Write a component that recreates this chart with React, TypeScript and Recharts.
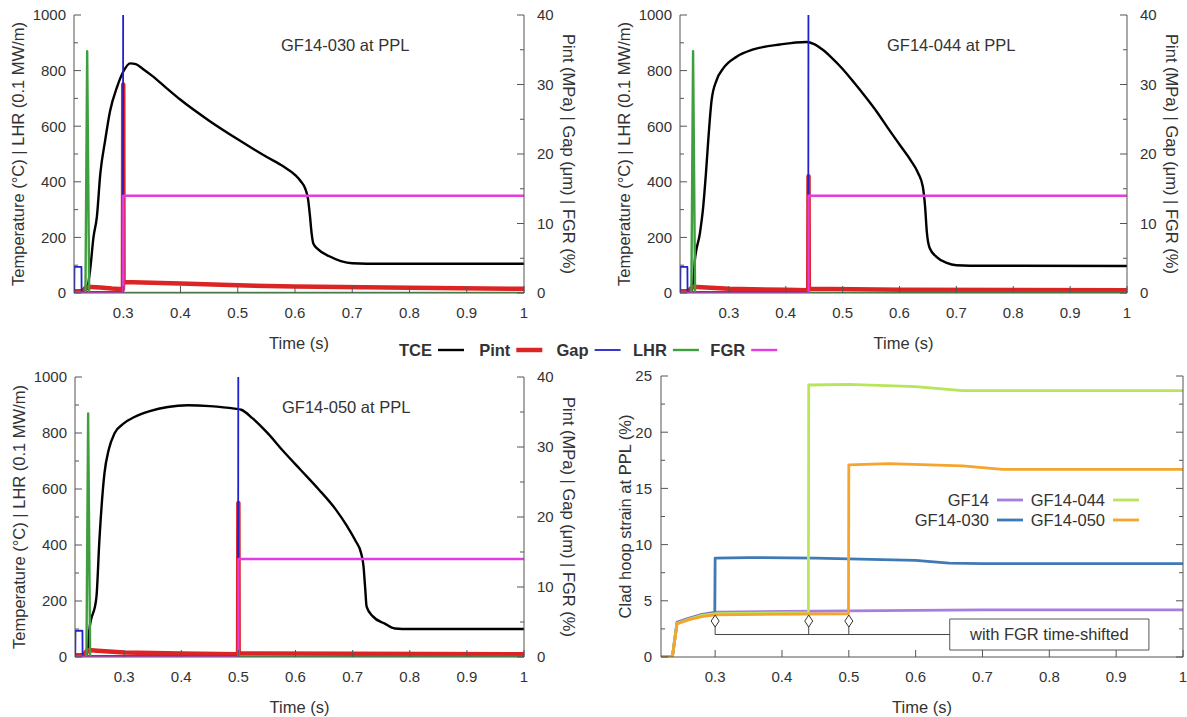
import React from 'react'
import { ComposedChart, Line, XAxis, YAxis, Scatter, ReferenceArea } from 'recharts'

type Pt = [number, number]

// GF14-030 at PPL  (TCE, LHR on left axis; Pint, Gap, FGR on right axis)
const tce030: Pt[] = [
  [0.214, 8], [0.236, 12], [0.242, 80], [0.248, 200], [0.254, 275], [0.26, 430], [0.2685, 550],
  [0.277, 655], [0.289, 740], [0.3, 796], [0.312, 826], [0.322, 823], [0.335, 805], [0.35, 782],
  [0.375, 738], [0.4, 695], [0.45, 620], [0.5, 553], [0.55, 490], [0.58, 455], [0.6, 425],
  [0.61, 402], [0.618, 375], [0.623, 335], [0.626, 280], [0.629, 215], [0.632, 178], [0.64, 158],
  [0.66, 132], [0.68, 115], [0.7, 107], [0.75, 105], [1, 105],
]
const pint030: Pt[] = [
  [0.214, 0.2], [0.228, 0.2], [0.236, 0.9], [0.26, 0.8], [0.28, 0.65], [0.2995, 0.55], [0.3, 30],
  [0.3005, 1.6], [0.4, 1.35], [0.5, 1.1], [0.6, 0.95], [0.8, 0.75], [1, 0.6],
]
const gap030: Pt[] = [[0.2145, 0], [0.2148, 3.75], [0.227, 3.75], [0.2273, 0.15], [0.2995, 0.15], [0.3, 60], [1, 60]]
const lhr030: Pt[] = [[0.214, 0], [0.234, 0], [0.237, 870], [0.2405, 0], [1, 0]]
const fgr030: Pt[] = [[0.214, 0], [0.3, 0], [0.3, 14], [1, 14]]

// GF14-044 at PPL
const tce044: Pt[] = [
  [0.214, 8], [0.236, 12], [0.2402, 119], [0.249, 215], [0.2548, 310], [0.2596, 430], [0.2637, 550],
  [0.2696, 694], [0.2784, 766], [0.29, 808], [0.3135, 850], [0.343, 876], [0.39, 894], [0.4365, 903],
  [0.45, 895], [0.465, 875], [0.48, 848], [0.5, 806], [0.52, 757], [0.54, 706], [0.56, 652],
  [0.58, 592], [0.6, 534], [0.62, 476], [0.633, 430], [0.641, 382], [0.645, 310], [0.648, 220],
  [0.653, 162], [0.665, 130], [0.683, 108], [0.7, 100], [0.75, 98], [1, 97],
]
const pint044: Pt[] = [
  [0.214, 0.2], [0.228, 0.2], [0.236, 0.9], [0.26, 0.8], [0.3, 0.6], [0.4, 0.45], [0.4395, 0.4],
  [0.44, 16.8], [0.4405, 0.6], [0.6, 0.45], [1, 0.4],
]
const gap044: Pt[] = [[0.2145, 0], [0.2148, 3.75], [0.227, 3.75], [0.2273, 0.15], [0.4395, 0.15], [0.44, 60], [1, 60]]
const lhr044: Pt[] = [[0.214, 0], [0.234, 0], [0.237, 870], [0.2405, 0], [1, 0]]
const fgr044: Pt[] = [[0.214, 0], [0.44, 0], [0.44, 14], [1, 14]]

// GF14-050 at PPL
const tce050: Pt[] = [
  [0.214, 8], [0.236, 12], [0.239, 95], [0.2515, 214], [0.2567, 417], [0.2655, 655], [0.273, 740],
  [0.283, 798], [0.3, 835], [0.318, 857], [0.345, 878], [0.3765, 893], [0.4115, 899], [0.45, 896],
  [0.4932, 887], [0.505, 883], [0.525, 852], [0.55, 802], [0.58, 732], [0.61, 666], [0.64, 600],
  [0.67, 528], [0.69, 468], [0.705, 415], [0.715, 370], [0.719, 325], [0.722, 245], [0.7245, 180],
  [0.735, 146], [0.7565, 119], [0.774, 102], [0.8, 100], [1, 100],
]
const pint050: Pt[] = [
  [0.214, 0.2], [0.228, 0.2], [0.236, 1.0], [0.26, 0.85], [0.3, 0.65], [0.4, 0.5], [0.4995, 0.4],
  [0.5, 22], [0.5005, 0.5], [0.7, 0.45], [1, 0.4],
]
const gap050: Pt[] = [[0.2145, 0], [0.2148, 3.75], [0.227, 3.75], [0.2273, 0.15], [0.4995, 0.15], [0.5, 60], [1, 60]]
const lhr050: Pt[] = [[0.214, 0], [0.234, 0], [0.237, 870], [0.2405, 0], [1, 0]]
const fgr050: Pt[] = [[0.214, 0], [0.5, 0], [0.5, 14], [1, 14]]

// clad hoop strain at PPL (%)
const strainGF14: Pt[] = [
  [0.219, 0], [0.236, 0], [0.243, 3.1], [0.26, 3.45], [0.28, 3.8], [0.3, 4.0], [0.4, 4.05], [0.5, 4.1], [0.7, 4.2], [1, 4.2],
]
const strain030: Pt[] = [
  [0.219, 0], [0.236, 0], [0.243, 3.05], [0.26, 3.4], [0.28, 3.75], [0.2995, 3.9], [0.3, 8.8],
  [0.35, 8.85], [0.45, 8.8], [0.6, 8.6], [0.65, 8.35], [0.7, 8.3], [1, 8.3],
]
const strain044: Pt[] = [
  [0.219, 0], [0.236, 0], [0.243, 3.0], [0.26, 3.35], [0.28, 3.7], [0.3, 3.85], [0.4395, 3.95],
  [0.44, 24.2], [0.5, 24.25], [0.6, 24.05], [0.67, 23.7], [1, 23.7],
]
const strain050: Pt[] = [
  [0.219, 0], [0.236, 0], [0.243, 2.95], [0.26, 3.3], [0.28, 3.6], [0.3, 3.75], [0.4995, 3.85],
  [0.5, 17.1], [0.56, 17.2], [0.67, 17.0], [0.73, 16.7], [1, 16.7],
]
const shiftTimes = [0.3, 0.44, 0.5]

const xTicks = [0.3, 0.4, 0.5, 0.6, 0.7, 0.8, 0.9, 1]
const tempTicks = [0, 100, 200, 300, 400, 500, 600, 700, 800, 900, 1000]
const tempMajor = [0, 200, 400, 600, 800, 1000]
const rightTicks = [0, 5, 10, 15, 20, 25, 30, 35, 40]
const rightMajor = [0, 10, 20, 30, 40]
const strainTicks = [0, 2.5, 5, 7.5, 10, 12.5, 15, 17.5, 20, 22.5, 25]
const strainMajor = [0, 5, 10, 15, 20, 25]

const FONT = '"Liberation Sans", Arial, sans-serif'
const INK = '#333'
const FRAME = '#555'
const H = 355

const fuelSeries = [
  { name: 'TCE', color: '#000000', width: 2.4, axis: 'l', curve: 'monotoneX' },
  { name: 'Pint', color: '#dc2424', width: 4.5, axis: 'r', curve: 'linear' },
  { name: 'Gap', color: '#2020cc', width: 1.8, axis: 'r', curve: 'linear' },
  { name: 'LHR', color: '#3f9f3f', width: 2.4, axis: 'l', curve: 'linear' },
  { name: 'FGR', color: '#e23de2', width: 2.4, axis: 'r', curve: 'linear' },
]

const fuelPanels = [
  { title: 'GF14-030 at PPL', left: 0, top: 0, width: 600, plotL: 74, plotR: 524, plotT: 15, plotB: 293, data: [tce030, pint030, gap030, lhr030, fgr030] },
  { title: 'GF14-044 at PPL', left: 590, top: 0, width: 597, plotL: 680, plotR: 1127, plotT: 15, plotB: 293, data: [tce044, pint044, gap044, lhr044, fgr044] },
  { title: 'GF14-050 at PPL', left: 0, top: 362, width: 600, plotL: 75, plotR: 524, plotT: 377, plotB: 657, data: [tce050, pint050, gap050, lhr050, fgr050] },
]

const strainPanel = { left: 590, top: 362, width: 597, plotL: 661, plotR: 1183, plotT: 376, plotB: 657 }
const strainSeries = [
  { name: 'GF14', color: '#a77ee0', data: strainGF14 },
  { name: 'GF14-030', color: '#3f7ab5', data: strain030 },
  { name: 'GF14-044', color: '#b8e65a', data: strain044 },
  { name: 'GF14-050', color: '#f5a52c', data: strain050 },
]

const toPts = (arr: Pt[]) => arr.map(([x, y]) => ({ x, y }))

type Side = 'bottom' | 'top' | 'left' | 'right'

// gnuplot-style inward ticks, drawn by hand; gap = tickMargin given to the axis
const makeTick = (side: Side, majors: number[], gap: number, showLabels: boolean) => (props: any) => {
  const { x, y, payload } = props
  const v: number = payload.value
  const major = majors.some((m) => Math.abs(m - v) < 1e-9)
  const len = major ? 7 : 4
  const txt = { fontSize: 15, fill: INK, fontFamily: FONT }
  let ln: React.ReactNode = null
  let label: React.ReactNode = null
  if (side === 'bottom') {
    const ay = y - gap
    ln = <line x1={x} y1={ay} x2={x} y2={ay - len} stroke={FRAME} />
    if (showLabels && major) label = <text x={x} y={y} dy="0.72em" textAnchor="middle" {...txt}>{String(v)}</text>
  } else if (side === 'top') {
    const ay = y + gap
    ln = <line x1={x} y1={ay} x2={x} y2={ay + len} stroke={FRAME} />
  } else if (side === 'left') {
    const ax = x + gap
    ln = <line x1={ax} y1={y} x2={ax + len} y2={y} stroke={FRAME} />
    if (showLabels && major) label = <text x={x} y={y} dy="0.36em" textAnchor="end" {...txt}>{String(v)}</text>
  } else {
    const ax = x - gap
    ln = <line x1={ax} y1={y} x2={ax - len} y2={y} stroke={FRAME} />
    if (showLabels && major) label = <text x={x} y={y} dy="0.36em" textAnchor="start" {...txt}>{String(v)}</text>
  }
  return (
    <g>
      {ln}
      {label}
    </g>
  )
}

const axisCommon = {
  type: 'number' as const,
  allowDataOverflow: true,
  interval: 0 as const,
  tickSize: 0,
  tickLine: false,
  axisLine: { stroke: FRAME },
}

const Diamond = (props: any) => {
  const { cx, cy } = props
  return <path d={`M${cx},${cy - 6} L${cx + 4},${cy} L${cx},${cy + 6} L${cx - 4},${cy} Z`} fill="#fff" stroke="#333" strokeWidth={1} />
}

function FuelPanel({ p }: { p: (typeof fuelPanels)[number] }) {
  return (
    <div style={{ position: 'absolute', left: p.left, top: p.top }}>
      <ComposedChart width={p.width} height={H} margin={{ top: p.plotT - p.top, right: 0, bottom: 0, left: 0 }}>
        <XAxis xAxisId="b" dataKey="x" {...axisCommon} domain={[0.214, 1]} ticks={xTicks} height={p.top + H - p.plotB} tickMargin={14} tick={makeTick('bottom', xTicks, 14, true)} />
        <XAxis xAxisId="t" orientation="top" {...axisCommon} domain={[0.214, 1]} ticks={xTicks} height={0} tickMargin={0} tick={makeTick('top', xTicks, 0, false)} />
        <YAxis yAxisId="l" dataKey="y" {...axisCommon} domain={[0, 1000]} ticks={tempTicks} width={p.plotL - p.left} tickMargin={8} tick={makeTick('left', tempMajor, 8, true)} />
        <YAxis yAxisId="r" orientation="right" {...axisCommon} domain={[0, 40]} ticks={rightTicks} width={p.left + p.width - p.plotR} tickMargin={13} tick={makeTick('right', rightMajor, 13, true)} />
        {fuelSeries.map((s, i) => (
          <Line
            key={s.name}
            xAxisId="b"
            yAxisId={s.axis}
            data={toPts(p.data[i])}
            dataKey="y"
            type={s.curve as any}
            stroke={s.color}
            strokeWidth={s.width}
            strokeLinejoin="round"
            dot={false}
            activeDot={false}
            isAnimationActive={false}
          />
        ))}
      </ComposedChart>
    </div>
  )
}

function StrainPanel() {
  const p = strainPanel
  return (
    <div style={{ position: 'absolute', left: p.left, top: p.top }}>
      <ComposedChart width={p.width} height={H} margin={{ top: p.plotT - p.top, right: 0, bottom: 0, left: 0 }}>
        <XAxis xAxisId="b" dataKey="x" {...axisCommon} domain={[0.219, 1]} ticks={xTicks} height={p.top + H - p.plotB} tickMargin={14} tick={makeTick('bottom', xTicks, 14, true)} />
        <XAxis xAxisId="t" orientation="top" {...axisCommon} domain={[0.219, 1]} ticks={xTicks} height={0} tickMargin={0} tick={makeTick('top', xTicks, 0, false)} />
        <YAxis yAxisId="l" dataKey="y" {...axisCommon} domain={[0, 25]} ticks={strainTicks} width={p.plotL - p.left} tickMargin={9} tick={makeTick('left', strainMajor, 9, true)} />
        <YAxis yAxisId="r" orientation="right" {...axisCommon} domain={[0, 25]} ticks={strainTicks} width={p.left + p.width - p.plotR} tickMargin={0} tick={makeTick('right', strainMajor, 0, false)} />
        {shiftTimes.map((t) => (
          <Line key={`v${t}`} xAxisId="b" yAxisId="l" data={toPts([[t, 2], [t, 3.6]])} dataKey="y" stroke="#444" strokeWidth={1} dot={false} activeDot={false} isAnimationActive={false} />
        ))}
        <Line xAxisId="b" yAxisId="l" data={toPts([[0.3, 2], [0.651, 2]])} dataKey="y" stroke="#444" strokeWidth={1} dot={false} activeDot={false} isAnimationActive={false} />
        {strainSeries.map((s) => (
          <Line
            key={s.name}
            xAxisId="b"
            yAxisId="l"
            data={toPts(s.data)}
            dataKey="y"
            type="linear"
            stroke={s.color}
            strokeWidth={2.8}
            strokeLinejoin="round"
            dot={false}
            activeDot={false}
            isAnimationActive={false}
          />
        ))}
        <Scatter xAxisId="b" yAxisId="l" data={shiftTimes.map((t) => ({ x: t, y: 3.2 }))} dataKey="y" shape={Diamond} isAnimationActive={false} />
        <ReferenceArea
          xAxisId="b"
          yAxisId="l"
          x1={0.651}
          x2={0.949}
          y1={0.62}
          y2={3.38}
          fill="#fff"
          fillOpacity={1}
          stroke={FRAME}
          strokeOpacity={1}
          label={{ value: 'with FGR time-shifted', position: 'center', fontSize: 16.5, fill: INK, fontFamily: FONT }}
        />
      </ComposedChart>
    </div>
  )
}

function Overlay() {
  const t = { fontSize: 16.5, fill: INK, fontFamily: FONT }
  const sp = strainPanel
  return (
    <svg width={1187} height={717} style={{ position: 'absolute', left: 0, top: 0, pointerEvents: 'none' }}>
      {fuelPanels.map((p) => {
        const cy = (p.plotT + p.plotB) / 2
        return (
          <g key={p.title}>
            <text x={p.plotL + 207} y={p.plotT + 30} dominantBaseline="central" {...t}>{p.title}</text>
            <text transform={`translate(${p.plotL - 56},${cy}) rotate(-90)`} textAnchor="middle" dominantBaseline="central" {...t}>
              Temperature (°C) | LHR (0.1 MW/m)
            </text>
            <text transform={`translate(${p.plotR + 45},${cy}) rotate(90)`} textAnchor="middle" dominantBaseline="central" {...t}>
              Pint (MPa) | Gap (μm) | FGR (%)
            </text>
            <text x={(p.plotL + p.plotR) / 2} y={p.plotB + 50} textAnchor="middle" dominantBaseline="central" {...t}>Time (s)</text>
          </g>
        )
      })}
      <text transform={`translate(${sp.plotL - 36},${(sp.plotT + sp.plotB) / 2}) rotate(-90)`} textAnchor="middle" dominantBaseline="central" {...t}>
        Clad hoop strain at PPL (%)
      </text>
      <text x={(sp.plotL + sp.plotR) / 2} y={sp.plotB + 50} textAnchor="middle" dominantBaseline="central" {...t}>Time (s)</text>

      {/* shared key for the three transient panels */}
      {fuelSeries.map((s, i) => {
        const x0 = 438 + 78.3 * i
        return (
          <g key={s.name}>
            <text x={x0 - 6} y={350} textAnchor="end" dominantBaseline="central" fontWeight="bold" {...t}>{s.name}</text>
            <line x1={x0} x2={x0 + 26} y1={350} y2={350} stroke={s.color} strokeWidth={s.width} />
          </g>
        )
      })}

      {/* key of the strain panel, two columns */}
      {strainSeries.map((s, i) => {
        const col = Math.floor(i / 2)
        const row = i % 2
        const xe = 989 + 116 * col
        const y = 500 + 20 * row
        return (
          <g key={s.name}>
            <text x={xe} y={y} textAnchor="end" dominantBaseline="central" {...t}>{s.name}</text>
            <line x1={xe + 8} x2={xe + 34} y1={y} y2={y} stroke={s.color} strokeWidth={2.8} />
          </g>
        )
      })}
    </svg>
  )
}

export default function App() {
  return (
    <div style={{ position: 'absolute', left: 0, top: 0, width: 1187, height: 717, background: '#fff', fontFamily: FONT }}>
      {fuelPanels.map((p) => (
        <FuelPanel key={p.title} p={p} />
      ))}
      <StrainPanel />
      <Overlay />
    </div>
  )
}
